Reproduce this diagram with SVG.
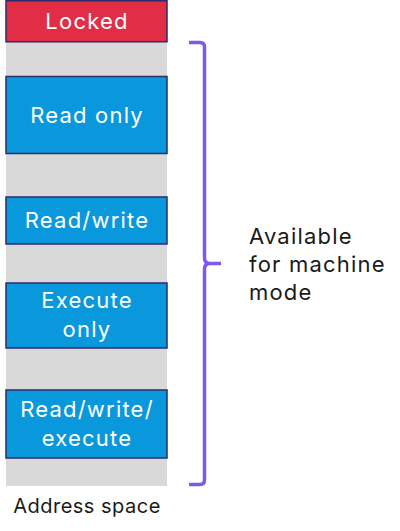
<svg xmlns="http://www.w3.org/2000/svg" width="400" height="531" viewBox="0 0 400 531">
<style>
.box{fill:#0a98dd;stroke:#2b2d6e;stroke-width:1.5}
.lbl{font-family:Inter,"Liberation Sans",sans-serif;font-size:22px;letter-spacing:1.2px;fill:#fff;text-anchor:middle}
.txt{font-family:Inter,"Liberation Sans",sans-serif;font-size:22px;letter-spacing:1.2px;fill:#1a1a1a}
</style>
<rect width="400" height="531" fill="#fff"/>
<g id="address-space">
<rect x="6" y="40" width="161" height="446" fill="#d9d9d9"/>
<text x="87" y="513" text-anchor="middle" style="font-family:Inter,'Liberation Sans',sans-serif;font-size:20px;letter-spacing:0.5px;fill:#1a1a1a">Address space</text>
</g>
<g id="locked">
<rect x="6" y="0.75" width="161" height="41" fill="#e22d47" stroke="#2b2d6e" stroke-width="1.5"/>
<text class="lbl" x="87" y="29">Locked</text>
</g>
<g id="read-only">
<rect class="box" x="6" y="76.5" width="161" height="77"/>
<text class="lbl" x="87" y="123">Read only</text>
</g>
<g id="read-write">
<rect class="box" x="6" y="197" width="161" height="47"/>
<text class="lbl" x="87" y="228">Read/write</text>
</g>
<g id="execute-only">
<rect class="box" x="6" y="283" width="161" height="65"/>
<text class="lbl" x="87" y="308">Execute</text>
<text class="lbl" x="87" y="337">only</text>
</g>
<g id="read-write-execute">
<rect class="box" x="6" y="390" width="161" height="68"/>
<text class="lbl" x="87" y="417">Read/write/</text>
<text class="lbl" x="87" y="446">execute</text>
</g>
<g id="connectors">
<path d="M189 42.5 H200 Q204.5 42.5 204.5 47 V258 Q204.5 263.5 210 263.5 H221 M210 263.5 Q204.5 263.5 204.5 269 V480 Q204.5 484.5 200 484.5 H189" fill="none" stroke="#7b5ce8" stroke-width="3.5"/>
</g>
<g id="label-available">
<text class="txt" x="249" y="244">Available</text>
<text class="txt" x="249" y="272">for machine</text>
<text class="txt" x="249" y="300">mode</text>
</g>
</svg>
